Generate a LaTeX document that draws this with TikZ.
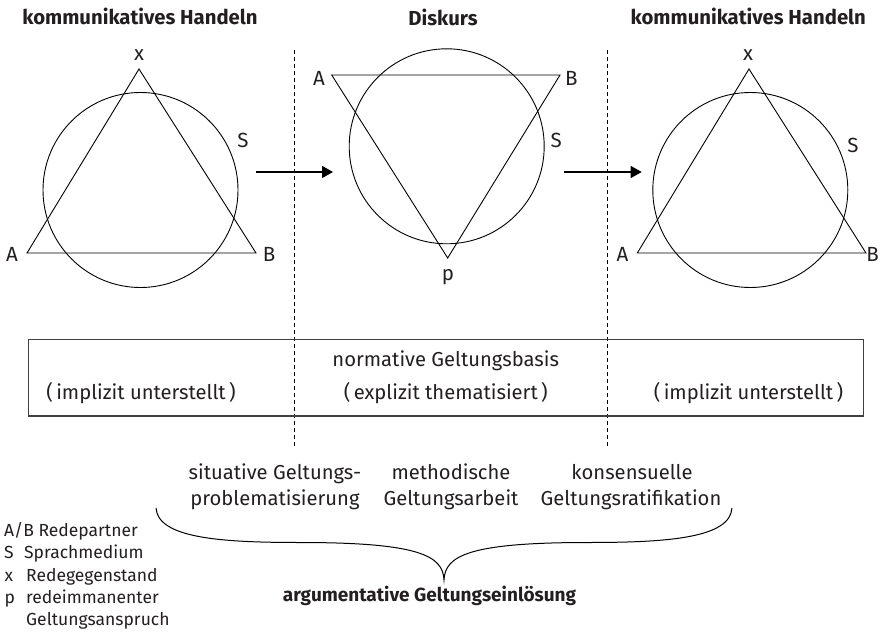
\documentclass[tikz,border=0pt]{standalone}
\usepackage{fontspec}
\setmainfont{Fira Sans}
\usetikzlibrary{arrows.meta}
\definecolor{ink}{HTML}{231F20}
\begin{document}
\begin{tikzpicture}[x=1pt,y=-1pt,
  fig/.style={draw=black,line width=0.9pt},
  lab/.style={inner sep=0pt,text=ink,font=\fontsize{20.5}{24}\selectfont},
  body/.style={inner sep=0pt,anchor=base,text=ink,font=\fontsize{20.2}{24}\selectfont},
  leg/.style={inner sep=0pt,anchor=base west,text=ink,font=\fontsize{17.5}{21}\selectfont},
  ttl/.style={inner sep=0pt,anchor=base,text=ink,font=\bfseries\fontsize{20.3}{24}\selectfont},
  ring/.style={circle,draw=black,line width=0.9pt,inner sep=0pt,minimum size=195pt},
  flow/.style={line width=1.3pt,-{Triangle[length=11pt,width=12pt]}},
  sep/.style={line width=0.9pt,dash pattern=on 4pt off 3pt}]
\useasboundingbox (0,0) rectangle (886,639);
% titles
\node[ttl] (t1) at (140,25) {kommunikatives Handeln};
\node[ttl] (t2) at (443,25.5) {Diskurs};
\node[ttl] (t3) at (748.3,25) {kommunikatives Handeln};
% separators
\coordinate (d1t) at (294,50); \coordinate (d1b) at (294,448);
\coordinate (d2t) at (607,50); \coordinate (d2b) at (607,448);
\draw[sep] (d1t) -- (d1b);
\draw[sep] (d2t) -- (d2b);
% left triangle
\coordinate (Lx) at (139,69); \coordinate (LA) at (27,253); \coordinate (LB) at (256,253);
\draw[fig,line join=miter] (Lx) -- (LA) -- (LB) -- cycle;
\node[ring] (Lc) at (140.5,190) {};
\node[lab] (Lxl) at (139,55) {x};
\node[lab] (LAl) at (12,254) {A};
\node[lab] (LBl) at (269,254) {B};
\node[lab] (LSl) at (243,140) {S};
% middle triangle
\coordinate (MA) at (331.7,75); \coordinate (MB) at (560,75); \coordinate (Mp) at (447.7,258);
\draw[fig,line join=miter] (MA) -- (MB) -- (Mp) -- cycle;
\node[ring] (Mc) at (446.7,146.3) {};
\node[lab] (MAl) at (319,78.5) {A};
\node[lab] (MBl) at (571.3,78.5) {B};
\node[lab] (MSl) at (556.3,140) {S};
\node[lab] (Mpl) at (448,276.7) {p};
% right triangle
\coordinate (Rx) at (749,69); \coordinate (RA) at (637.3,253); \coordinate (RB) at (866,253);
\draw[fig,line join=miter] (Rx) -- (RA) -- (RB) -- cycle;
\node[ring] (Rc) at (750.3,190) {};
\node[lab] (Rxl) at (748,55) {x};
\node[lab] (RAl) at (622.5,254) {A};
\node[lab] (RBl) at (872.5,254) {B};
\node[lab] (RSl) at (853,145) {S};
% arrows
\coordinate (a1s) at (256,172); \coordinate (a1e) at (333,172);
\coordinate (a2s) at (564,172); \coordinate (a2e) at (641.7,172);
\draw[flow] (a1s) -- (a1e);
\draw[flow] (a2s) -- (a2e);
% box
\node[draw=black!75,line width=1.2pt,inner sep=0pt,minimum width=835pt,minimum height=76.7pt] (box) at (446.2,377.65) {};
\node[body] (nb) at (445.7,366.7) {normative Geltungsbasis};
\node[body] (b1) at (141,399) {(\,implizit unterstellt\,)};
\node[body] (b2) at (445.8,399) {(\,explizit thematisiert\,)};
\node[body] (b3) at (748.5,399) {(\,implizit unterstellt\,)};
% phases
\node[body] (p1a) at (275,479) {situative Geltungs-};
\node[body] (p1b) at (275,505) {problematisierung};
\node[body] (p2a) at (451,479) {methodische};
\node[body] (p2b) at (451,505) {Geltungsarbeit};
\node[body] (p3a) at (632,479) {konsensuelle};
\node[body] (p3b) at (631,505) {Geltungsratifikation};
% brace
\coordinate (brl) at (156,508); \coordinate (brr) at (732,508); \coordinate (brt) at (444,580);
\draw[line width=1pt] (brl) .. controls (158,538) and (220,542.5) .. (300,542.5)
  .. controls (420,542.5) and (443,556) .. (brt)
  .. controls (445,556) and (468,542.5) .. (588,542.5)
  .. controls (668,542.5) and (730,538) .. (brr);
\node[ttl,font=\bfseries\fontsize{19}{23}\selectfont] (res) at (429.5,601.7) {argumentative Geltungseinlösung};
% legend
\node[leg] (l1) at (4,536.7) {A/B Redepartner};
\node[leg] (l2a) at (4,558.8) {S};
\node[leg] (l2b) at (24,558.8) {Sprachmedium};
\node[leg] (l3a) at (4.5,581) {x};
\node[leg] (l3b) at (26,581) {Redegegenstand};
\node[leg] (l4a) at (4.5,603.3) {p};
\node[leg] (l4b) at (26,603.3) {redeimmanenter};
\node[leg] (l5b) at (26,625.5) {Geltungsanspruch};
\end{tikzpicture}
\end{document}
